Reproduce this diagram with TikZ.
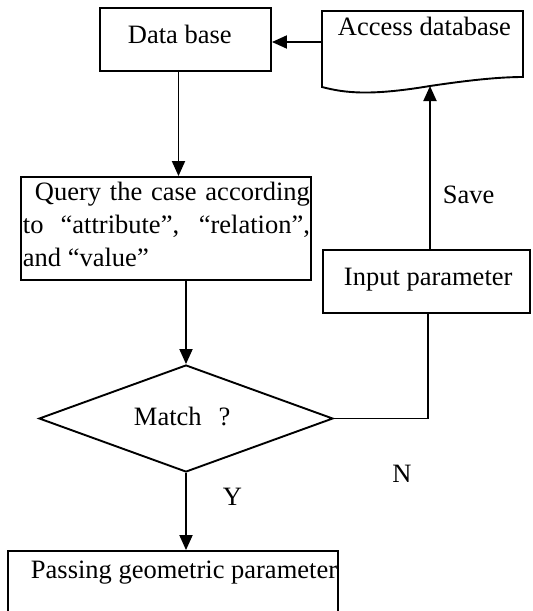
\documentclass[tikz,border=0pt]{standalone}
\usepackage{fontspec}
\setmainfont{Liberation Serif}
\usetikzlibrary{arrows.meta,shapes.geometric}
\begin{document}
\begin{tikzpicture}[x=1pt,y=-1pt, line width=1.9pt,
  box/.style={draw, rectangle, inner sep=0pt},
  lbl/.style={inner sep=0pt, anchor=base west, font=\fontsize{26.5}{33}\selectfont},
  arr/.style={-{Triangle[length=15pt,width=13pt]}}]
\useasboundingbox (0,0) rectangle (533,611);
% boxes
\node[box, minimum width=171pt, minimum height=63pt] (db) at (185.5,39.5) {};
\node[box, minimum width=290pt, minimum height=103pt] (query) at (166,228.5) {};
\node[box, minimum width=207pt, minimum height=63pt] (input) at (426.5,281.5) {};
\node[draw, diamond, inner sep=0pt, minimum width=294pt, minimum height=107pt] (dia) at (186,418.5) {};
\node[box, minimum width=330pt, minimum height=64pt] (pass) at (173,583) {};
% document shape
\draw (322,87) -- (322,11) -- (523,11) -- (523,77)
  .. controls (500,77) and (470,80) .. (430,86)
  .. controls (370,96) and (345,93) .. (322,87) -- cycle;
\coordinate (accw) at (322,42);
\coordinate (accb) at (430,86);
% texts
\node[lbl] (dbt) at (127,43) {Data base};
\node[lbl] (acct) at (337,35) {Access database};
\node[lbl, text width=287pt, align=justify] (qt) at (22,200)
  {\hspace*{12pt}Query the case according to “attribute”, “relation”, and “value”};
\node[lbl] (inpt) at (343,285) {Input parameter};
\node[lbl] (savet) at (442,203) {Save};
\node[lbl] (mt) at (133,425) {Match\hspace{17pt}?};
\node[lbl] (nt) at (391.5,482) {N};
\node[lbl] (yt) at (222,505) {Y};
\node[lbl] (pt) at (30,578) {Passing geometric parameter};
% connectors
\draw[arr] (accw) -- (db.east |- accw);
\draw[arr] ([xshift=-7pt]db.south) -- ([xshift=-7pt]db.south |- query.north);
\draw[arr] (query.south -| dia.north) -- (dia.north);
\draw[arr] (dia.south) -- (dia.south |- pass.north);
\draw (dia.east) -| ([xshift=1.5pt]input.south);
\draw[arr] (input.north -| accb) -- (accb);
\end{tikzpicture}
\end{document}
